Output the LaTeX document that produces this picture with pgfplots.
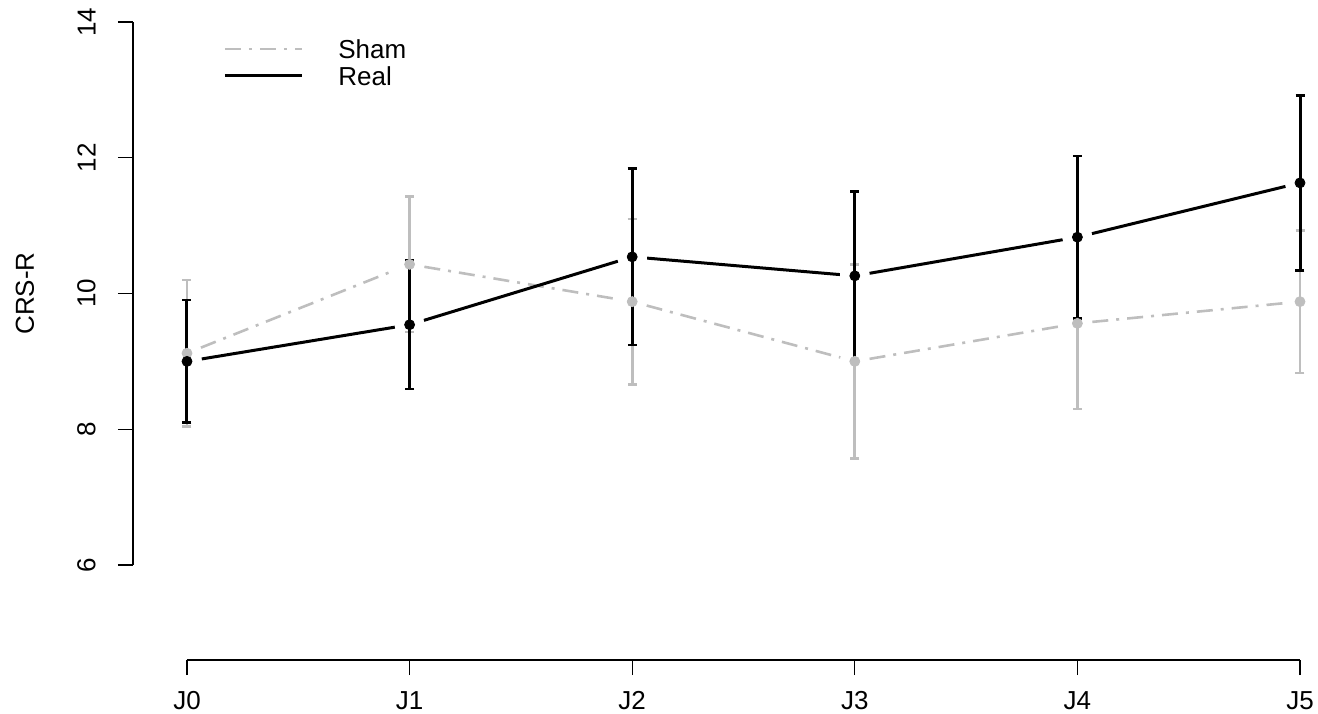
\documentclass[border=0pt]{standalone}
\usepackage{fontspec}
\setmainfont{Liberation Sans}
\usepackage{pgfplots}
\usepackage{pgfplotstable}
\pgfplotsset{compat=1.18}
\definecolor{shamgrey}{HTML}{BEBEBE}

\pgfplotstableread{
x y e
0 9.12 1.08
1 10.43 1.00
2 9.88 1.22
3 9.00 1.43
4 9.56 1.26
5 9.88 1.05
}\shamdata

\pgfplotstableread{
x y e
0 9.00 0.90
1 9.54 0.95
2 10.54 1.30
3 10.26 1.245
4 10.83 1.20
5 11.63 1.29
}\realdata

\tikzset{
  shamline/.style={color=shamgrey, line width=1.3pt, dash pattern=on 8pt off 4pt on 1.5pt off 4pt, mark=none},
  realline/.style={color=black, line width=1.5pt, solid, mark=none},
}

\begin{document}
\fontsize{13}{15}\selectfont
\begin{tikzpicture}
\begin{axis}[
  scale only axis,
  width=556.5pt, height=271.5pt,
  xmin=0, xmax=5, ymin=6, ymax=14,
  separate axis lines,
  axis x line*=bottom, axis y line*=left,
  axis x line shift=47.5pt, axis y line shift=27pt,
  axis line style={-, line width=0.6pt},
  every tick/.style={line width=0.6pt, black},
  tick align=outside, major tick length=7.5pt,
  xtick={0,1,2,3,4,5},
  xticklabels={J0,J1,J2,J3,J4,J5},
  ytick={6,8,10,12,14},
  /pgf/number format/assume math mode=true,
  yticklabel style={rotate=90, anchor=south},
  xticklabel shift=3.7pt, yticklabel shift=6.7pt,
  ylabel={CRS-R},
  ylabel style={at={(axis description cs:-0.14555,0.5)}, anchor=center, rotate=0},
  clip=false,
  legend image code/.code={\draw[#1] (0pt,0pt) -- (38.5pt,0pt);},
  legend style={draw=none, fill=none, inner sep=0pt, row sep=4pt, column sep=0pt,
    nodes={inner sep=0pt, text height=9.5pt, text depth=0pt},
    at={(axis description cs:0.03235,0.9687)}, anchor=north west},
  legend cell align=left,
]
\addlegendimage{shamline}
\addlegendentry{\hspace{17.5pt}Sham}
\addlegendimage{realline}
\addlegendentry{\hspace{17.5pt}Real}

\pgfplotsinvokeforeach{-0.1:1.1,0.9:2.1,1.9:3.1,2.9:4.1,3.9:5.1}{
  \addplot[shamline, shorten >=7.5pt, shorten <=7.5pt, forget plot,
    restrict x to domain=#1] table[x=x,y=y]{\shamdata};
}
\addplot[forget plot, only marks, mark=*, color=shamgrey, mark size=2.5pt,
  error bars/.cd, y dir=both, y explicit,
  error bar style={line width=1.4pt, shamgrey, solid},
  error mark options={mark size=2.25pt, line width=1.2pt, shamgrey, rotate=90}]
  table[x=x,y=y,y error=e]{\shamdata};

\pgfplotsinvokeforeach{-0.1:1.1,0.9:2.1,1.9:3.1,2.9:4.1,3.9:5.1}{
  \addplot[realline, shorten >=7.5pt, shorten <=7.5pt, forget plot,
    restrict x to domain=#1] table[x=x,y=y]{\realdata};
}
\addplot[forget plot, only marks, mark=*, color=black, mark size=2.5pt,
  error bars/.cd, y dir=both, y explicit,
  error bar style={line width=1.5pt, black, solid},
  error mark options={mark size=2.25pt, line width=1.2pt, black, rotate=90}]
  table[x=x,y=y,y error=e]{\realdata};
\end{axis}
\pgfresetboundingbox
\useasboundingbox (-93.5pt,-74pt) rectangle (565.5pt,282.5pt);
\end{tikzpicture}
\end{document}
